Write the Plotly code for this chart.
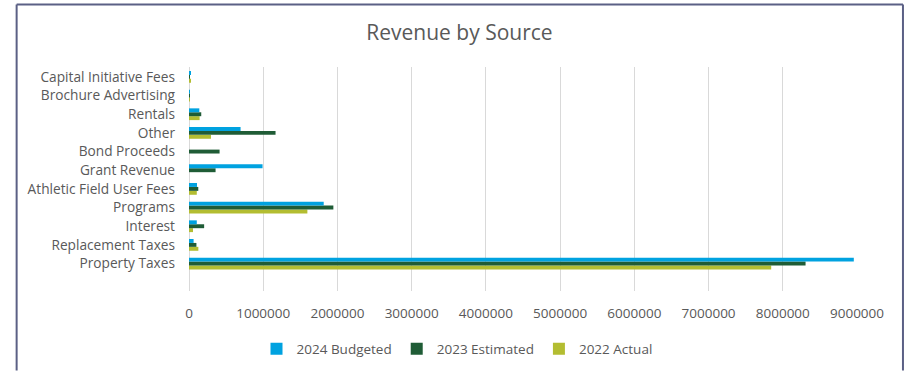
import plotly.graph_objects as go

# Revenue categories, bottom to top as drawn on the y axis
categories = [
    "Property Taxes",
    "Replacement Taxes",
    "Interest",
    "Programs",
    "Athletic Field User Fees",
    "Grant Revenue",
    "Bond Proceeds",
    "Other",
    "Rentals",
    "Brochure Advertising",
    "Capital Initiative Fees",
]

budget_2024 = [8957000, 62000, 105000, 1815000, 108000, 991000, 0, 695000, 139000, 10000, 25000]
estimated_2023 = [8307000, 100000, 204000, 1945000, 125000, 358000, 412000, 1166000, 165000, 8000, 5000]
actual_2022 = [7844000, 126000, 54000, 1595000, 105000, 0, 0, 296000, 143000, 8000, 25000]

x_ticks = [0, 1000000, 2000000, 3000000, 4000000, 5000000, 6000000, 7000000, 8000000, 9000000]

series = [
    ("2024 Budgeted", budget_2024, "#00a2e0"),
    ("2023 Estimated", estimated_2023, "#1f5c36"),
    ("2022 Actual", actual_2022, "#b3bd31"),
]

fig = go.Figure()
# Horizontal groups stack from the bottom up, so add the series in reverse
# to put 2024 on top; legendrank keeps the legend in 2024→2022 order.
for rank, (name, vals, color) in reversed(list(enumerate(series))):
    fig.add_trace(go.Bar(
        y=categories, x=vals, name=name, orientation="h",
        marker=dict(color=color, line=dict(width=0)),
        legendrank=rank + 1,
    ))

W, H = 907, 373
L, R = 188.5, 857
T, B = 67, 298


def px_x(p):
    return (p - L) / (R - L)


def px_y(p):
    return (B - p) / (B - T)


font_family = "Open Sans, Liberation Sans, sans-serif"
fig.update_layout(
    width=W, height=H,
    margin=dict(l=L, r=W - R, t=T, b=H - B, pad=0),
    paper_bgcolor="white", plot_bgcolor="white",
    barmode="group", bargap=0.37, bargroupgap=0,
    font=dict(family=font_family, color="#595959", size=13),
    title=dict(text="Revenue by Source", x=459.5 / W, xref="container", xanchor="center",
               y=1 - 33 / H, yref="container", yanchor="middle",
               font=dict(size=21, color="#595959", family=font_family)),
    xaxis=dict(range=[0, 9000000], tickvals=x_ticks,
               ticktext=[str(v) for v in x_ticks],
               showgrid=True, gridcolor="#d9d9d9", gridwidth=1,
               zeroline=True, zerolinecolor="#d9d9d9", zerolinewidth=1,
               showline=False, ticks="", ticklabelstandoff=12,
               tickfont=dict(size=13.5, color="#595959")),
    yaxis=dict(type="category", categoryorder="array", categoryarray=categories,
               range=[-1.47, 10.53], showgrid=False, showline=False, ticks="",
               ticklabelstandoff=13, tickfont=dict(size=13.7, color="#595959")),
    legend=dict(orientation="h", x=457 / W, xanchor="center", xref="container",
                y=1 - 349 / H, yref="container", yanchor="middle",
                font=dict(size=13.5, color="#595959"),
                itemwidth=30, traceorder="normal"),
    showlegend=True,
)

# Outer frame around the chart
frame = "#5b6085"
fig.add_shape(type="line", xref="paper", yref="paper",
              x0=px_x(16), x1=px_x(16), y0=px_y(2.5), y1=px_y(380),
              line=dict(color=frame, width=2))
fig.add_shape(type="line", xref="paper", yref="paper",
              x0=px_x(16), x1=px_x(903), y0=px_y(2.5), y1=px_y(2.5),
              line=dict(color=frame, width=2))
fig.add_shape(type="line", xref="paper", yref="paper",
              x0=px_x(903), x1=px_x(903), y0=px_y(2.5), y1=px_y(380),
              line=dict(color=frame, width=2))

fig.write_html("out.html")
